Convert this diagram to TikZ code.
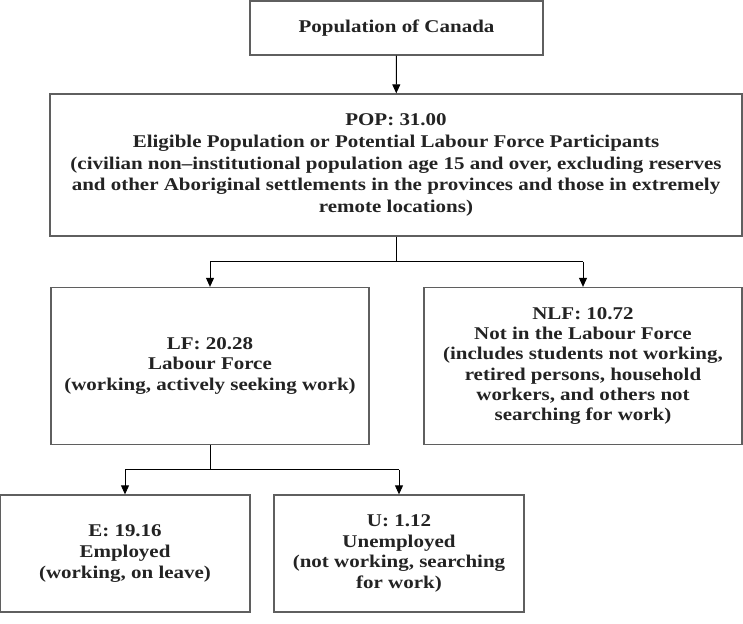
\documentclass[tikz,border=0pt]{standalone}
\usepackage{fontspec}
\setmainfont{Liberation Serif}[FakeStretch=1.17]
\usetikzlibrary{arrows.meta,positioning,calc}
\definecolor{boxgray}{RGB}{95,95,95}
\definecolor{inkdark}{RGB}{35,35,35}

\begin{document}
\begin{tikzpicture}[x=1bp, y=-1bp,
  every node/.style={font=\bfseries\fontsize{18}{21}\selectfont, text=inkdark},
  box/.style={draw=boxgray, line width=1.3bp, align=center, inner sep=0pt},
  link/.style={draw=black, line width=0.9bp},
  arr/.style={link, -{Triangle[width=8bp,length=9bp]}}]
  \useasboundingbox (0,0) rectangle (743,624);
  % top box
  \node[box, minimum width=293bp, minimum height=54bp] (canada) at (396.5,28) {Population of Canada};
  % eligible population
  \node[box, minimum width=692bp, minimum height=142bp, font=\bfseries\fontsize{18}{21.7}\selectfont] (pop) at (396,165)
    {POP: 31.00\\Eligible Population or Potential Labour Force Participants\\
     (civilian non--institutional population age 15 and over, excluding reserves\\
     and other Aboriginal settlements in the provinces and those in extremely\\
     remote locations)};
  % labour force split
  \node[box, minimum width=318bp, minimum height=157bp] (lf) at (210,366)
    {LF: 20.28\\Labour Force\\(working, actively seeking work)};
  \node[box, minimum width=318bp, minimum height=157bp, font=\bfseries\fontsize{18}{20.4}\selectfont] (nlf) at (583,366)
    {NLF: 10.72\\Not in the Labour Force\\(includes students not working,\\
     retired persons, household\\workers, and others not\\searching for work)};
  % employed / unemployed
  \node[box, minimum width=250bp, minimum height=117bp] (emp) at (125,553.5)
    {E: 19.16\\Employed\\(working, on leave)};
  \node[box, minimum width=250bp, minimum height=117bp] (unemp) at (399,553.5)
    {U: 1.12\\Unemployed\\(not working, searching\\for work)};
  % connectors
  \coordinate (popsplit) at ($(pop.south)!0.5!(pop.south |- lf.north)$);
  \coordinate (lfsplit) at ($(lf.south)!0.5!(lf.south |- emp.north)$);
  \draw[arr] (canada) -- (pop);
  \draw[link] (pop.south) -- (popsplit) (lf.north |- popsplit) -- (nlf.north |- popsplit);
  \draw[arr] (lf.north |- popsplit) -- (lf.north);
  \draw[arr] (nlf.north |- popsplit) -- (nlf.north);
  \draw[link] (lf.south) -- (lfsplit) (emp.north |- lfsplit) -- (unemp.north |- lfsplit);
  \draw[arr] (emp.north |- lfsplit) -- (emp.north);
  \draw[arr] (unemp.north |- lfsplit) -- (unemp.north);
\end{tikzpicture}
\end{document}
